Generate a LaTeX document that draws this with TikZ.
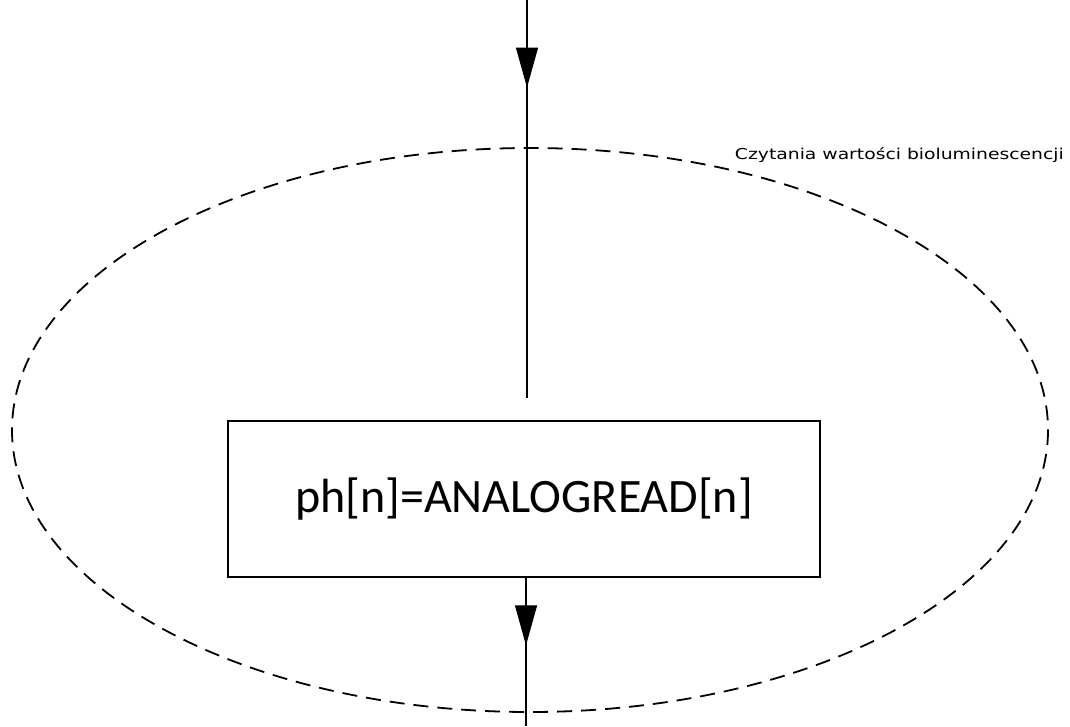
\documentclass[tikz,border=0pt]{standalone}
\usepackage{fontspec}
\setmainfont{Carlito}
\newfontfamily\labelfont{DejaVu Sans}
\usetikzlibrary{arrows.meta,decorations.markings}
\tikzset{
  flow/.style={line width=2.2pt},
  midarrow/.style={postaction={decorate},decoration={markings,
      mark=at position #1 with {\arrow[line width=1.2pt]{Triangle[length=40pt,width=22pt]}}}},
  procbox/.style={draw,line width=2pt,minimum width=592pt,minimum height=156pt,inner sep=0pt,font=\fontsize{48}{50}\selectfont},
  region/.style={draw,dashed,line width=1.8pt,dash pattern=on 15pt off 9pt},
}
\begin{document}
\begin{tikzpicture}[x=1pt,y=-1pt]
\useasboundingbox (0,0) rectangle (1070,726);
% grouping outline
\draw[region] (530,430) ellipse [x radius=518, y radius=282];
\node[anchor=base east,inner sep=0pt,font=\labelfont\fontsize{15}{17}\selectfont] (lbl) at (1064,159) {\scalebox{1.25}[1]{Czytania wartości bioluminescencji}};
% process step
\node[procbox] (read) at (524,499) {ph[n]=ANALOGREAD[n]};
% incoming and outgoing flow
\coordinate (in) at (527,0);
\coordinate (inend) at (527,398);
\coordinate (out) at (526,726);
\draw[flow,midarrow=0.22] (in) -- (inend);
\draw[flow,midarrow=0.455] (read.south -| out) -- (out);
\end{tikzpicture}
\end{document}
